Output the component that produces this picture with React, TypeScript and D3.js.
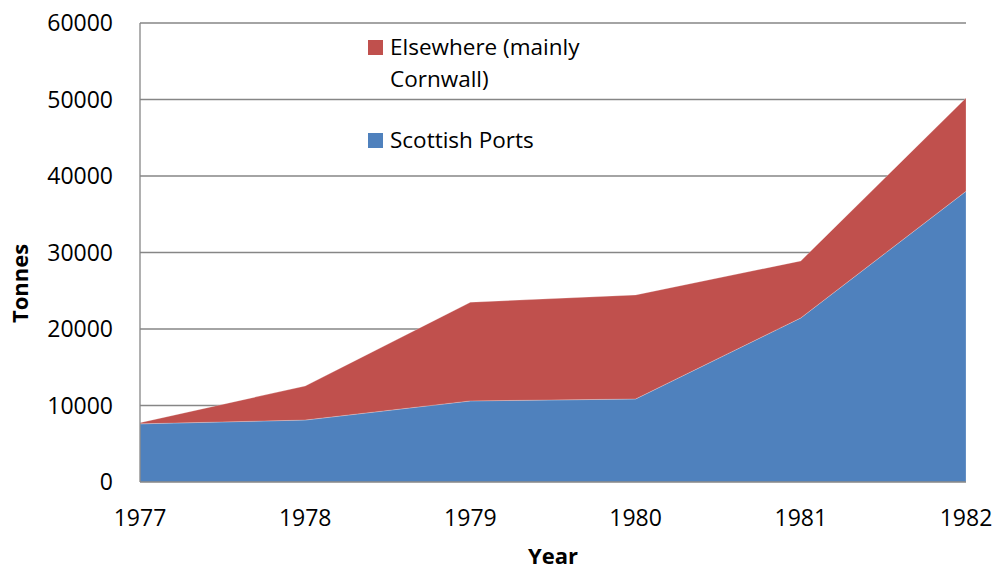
import React from "react";
import * as d3 from "d3";

const years = [1977, 1978, 1979, 1980, 1981, 1982];
const scottishPorts = [7600, 8100, 10600, 10850, 21450, 38000];
const elsewhere = [150, 4450, 12900, 13600, 7450, 12200];
const yTicks = [0, 10000, 20000, 30000, 40000, 50000, 60000];

const W = 998;
const H = 569;
const margin = { top: 23, right: 32, bottom: 87, left: 140 };
const font = "'Open Sans', sans-serif";

const App = () => {
  const x = d3.scaleLinear().domain([1977, 1982]).range([margin.left, W - margin.right]);
  const y = d3.scaleLinear().domain([0, 60000]).range([H - margin.bottom, margin.top]);

  const rows = years.map((yr, i) => ({ year: yr, scot: scottishPorts[i], else: elsewhere[i] }));
  const stacked = d3.stack<any>().keys(["scot", "else"])(rows);
  const area = d3
    .area<any>()
    .x((d) => x(d.data.year))
    .y0((d) => y(d[0]))
    .y1((d) => y(d[1]));
  const colors = ["#4F81BD", "#C0504D"];

  return (
    <svg width={W} height={H} style={{ position: "absolute", left: 0, top: 0 }}>
      <rect width={W} height={H} fill="#fff" />
      {yTicks.map((t) => (
        <g key={t}>
          {t > 0 && (
            <line x1={margin.left} x2={W - margin.right} y1={y(t)} y2={y(t)} stroke="#868686" strokeWidth={1.3} />
          )}
          <text x={113} y={y(t)} dy="0.36em" textAnchor="end" fontFamily={font} fontSize={23} fill="#000">
            {t}
          </text>
        </g>
      ))}
      {stacked.map((s, i) => (
        <path key={s.key} d={area(s) || ""} fill={colors[i]} stroke="#ffffff" strokeOpacity={0.4} strokeWidth={0.6} />
      ))}
      <line x1={margin.left} x2={margin.left} y1={margin.top} y2={y(0)} stroke="#868686" strokeWidth={1.3} />
      <line x1={margin.left} x2={W - margin.right} y1={y(0)} y2={y(0)} stroke="#868686" strokeWidth={1.3} />
      {years.map((yr) => (
        <text key={yr} x={x(yr)} y={526} textAnchor="middle" fontFamily={font} fontSize={23} fill="#000">
          {yr}
        </text>
      ))}
      <text x={553} y={564} textAnchor="middle" fontFamily={font} fontSize={22} fontWeight="bold">
        Year
      </text>
      <text
        transform={`translate(28,${(margin.top + y(0)) / 2 + 31}) rotate(-90)`}
        textAnchor="middle"
        fontFamily={font}
        fontSize={22}
        fontWeight="bold"
      >
        Tonnes
      </text>
      <rect x={368} y={40} width={15} height={15} fill={colors[1]} />
      <text x={390} y={55} fontFamily={font} fontSize={22.5}>Elsewhere (mainly</text>
      <text x={390} y={87} fontFamily={font} fontSize={22.5}>Cornwall)</text>
      <rect x={368} y={133} width={15} height={15} fill={colors[0]} />
      <text x={390} y={148} fontFamily={font} fontSize={22.5}>Scottish Ports</text>
    </svg>
  );
};

export default App;
